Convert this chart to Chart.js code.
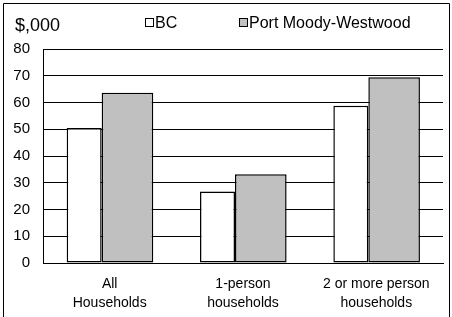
<!DOCTYPE html>
<html>
<head>
<meta charset="utf-8">
<script src="https://cdn.jsdelivr.net/npm/chart.js@4/dist/chart.umd.min.js"></script>
<style>
    body { margin: 0; background: #ffffff; }
    #wrap { width: 452px; height: 317px; }
</style>
</head>
<body>
<div id="wrap"><canvas id="chart" width="452" height="317"></canvas></div>
<script>
const categories = [["All", "Households"], ["1-person", "households"], ["2 or more person", "households"]];
const bcValues = [50.5, 26.7, 58.8];
const pmwValues = [63.6, 33.2, 69.4];
const seriesNames = ["BC", "Port Moody-Westwood"];
const unitLabel = "$,000";
const yMin = 0;
const yMax = 80;
const yStep = 10;

const FONT = "'Liberation Sans', Arial, sans-serif";

// frame, unit label and legend drawn on top of the chart
const extras = {
    id: "extras",
    afterDraw(c) {
        const ctx = c.ctx;
        ctx.save();
        ctx.strokeStyle = "#000";
        ctx.lineWidth = 1;
        ctx.beginPath();
        ctx.moveTo(3.5, 317);
        ctx.lineTo(3.5, 3.5);
        ctx.lineTo(449.5, 3.5);
        ctx.lineTo(449.5, 317);
        ctx.stroke();

        ctx.fillStyle = "#000";
        ctx.textBaseline = "alphabetic";
        ctx.font = "18px " + FONT;
        ctx.fillText(unitLabel, 15, 31);

        ctx.font = "16px " + FONT;
        const items = [
            {x: 145, fill: "#ffffff", text: seriesNames[0]},
            {x: 239, fill: "#c0c0c0", text: seriesNames[1]}
        ];
        items.forEach(function (it) {
            ctx.fillStyle = it.fill;
            ctx.fillRect(it.x + 0.5, 18.5, 8, 8);
            ctx.strokeRect(it.x + 0.5, 18.5, 8, 8);
            ctx.fillStyle = "#000";
            ctx.fillText(it.text, it.x + 10, 28);
        });
        ctx.restore();
    }
};

window.addEventListener("load", function () {
    new Chart(document.getElementById("chart"), {
        type: "bar",
        data: {
            labels: categories,
            datasets: [
                {
                    label: seriesNames[0],
                    data: bcValues,
                    backgroundColor: "#ffffff",
                    borderColor: "#000000",
                    borderWidth: 1.5,
                    borderSkipped: false,
                    categoryPercentage: 0.765,
                    barPercentage: 0.686,
                },
                {
                    label: seriesNames[1],
                    data: pmwValues,
                    backgroundColor: "#c0c0c0",
                    borderColor: "#000000",
                    borderWidth: 1.5,
                    borderSkipped: false,
                    categoryPercentage: 0.534,
                    barPercentage: 1.45,
                },
            ],
        },
        options: {
            responsive: false,
            animation: false,
            layout: {
                padding: {left: 0, right: 9, top: 49, bottom: 0},
            },
            plugins: {
                legend: {display: false},
                tooltip: {enabled: false},
            },
            scales: {
                x: {
                    grid: {display: false, drawTicks: false},
                    border: {display: true, color: "#000"},
                    ticks: {
                        color: "#000",
                        font: {family: FONT, size: 14, lineHeight: 1.35},
                        padding: 12,
                        maxRotation: 0,
                    },
                    afterFit: function (s) { s.height = 54; },
                },
                y: {
                    min: yMin,
                    max: yMax,
                    grid: {color: "#000", lineWidth: 1, drawTicks: false},
                    border: {display: true, color: "#000"},
                    ticks: {
                        stepSize: yStep,
                        color: "#000",
                        font: {family: FONT, size: 15},
                        padding: 13,
                    },
                    afterFit: function (s) { s.width = 43; },
                },
            },
        },
        plugins: [extras],
    });
});
</script>
</body>
</html>
